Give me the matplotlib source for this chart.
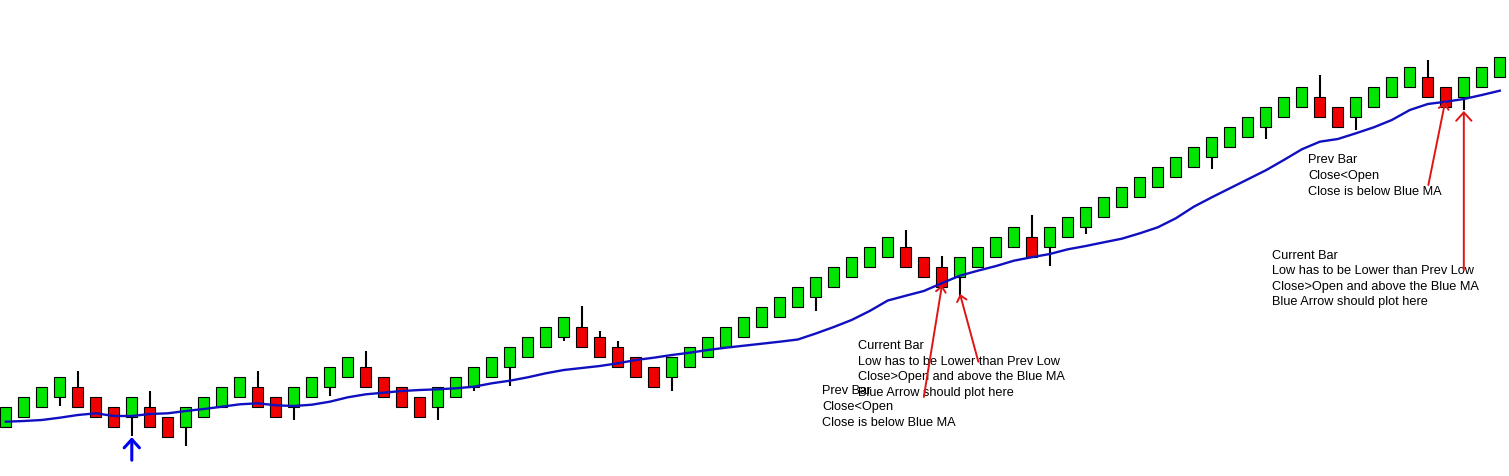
import numpy as np
import matplotlib
matplotlib.use("Agg")
import matplotlib.pyplot as plt

# -----------------------------
# Candle data (price in chart steps)
# -----------------------------
opens = [1, 2, 3, 4, 5, 4, 3, 2, 3, 2, 1, 2, 3, 4, 5, 4, 3, 4, 5, 6,
         7, 6, 5, 4, 3, 4, 5, 6, 7, 8, 9, 10, 11, 10, 9, 8, 7, 6, 7, 8,
         9, 10, 11, 12, 13, 14, 15, 16, 17, 18, 19, 18, 17, 16, 17, 18, 19, 20, 19, 20,
         21, 22, 23, 24, 25, 26, 27, 28, 29, 30, 31, 32, 33, 34, 33, 32, 33, 34, 35, 36,
         35, 34, 35, 36]
closes = [3, 4, 5, 6, 3, 2, 1, 4, 1, 0, 3, 4, 5, 6, 3, 2, 5, 6, 7, 8,
          5, 4, 3, 2, 5, 6, 7, 8, 9, 10, 11, 12, 9, 8, 7, 6, 5, 8, 9, 10,
          11, 12, 13, 14, 15, 16, 17, 18, 19, 20, 17, 16, 15, 18, 19, 20, 21, 18, 21, 22,
          23, 24, 25, 26, 27, 28, 29, 30, 31, 32, 33, 34, 35, 32, 31, 34, 35, 36, 37, 34,
          33, 36, 37, 38]

# wicks that stick out of the body (index: value)
high_wicks = {4: 6.57, 8: 4.57, 14: 6.57, 20: 8.57, 32: 13.07, 33: 10.57, 34: 9.57,
              50: 20.67, 52: 18.07, 57: 22.17, 73: 36.17, 79: 37.67}
low_wicks = {3: 3.1, 7: 0.1, 10: -0.9, 16: 1.67, 18: 4.07, 24: 1.67, 26: 4.57,
             28: 5.1, 31: 9.57, 37: 4.6, 45: 12.6, 53: 14.0, 58: 17.1, 60: 20.24,
             67: 26.74, 70: 29.74, 75: 30.67, 81: 32.67}

# blue moving average
ma = [1.5, 1.57, 1.67, 1.9, 2.17, 2.34, 2.07, 2.07, 2.27, 2.34,
      2.57, 2.77, 3.0, 3.24, 3.34, 3.14, 3.07, 3.2, 3.5, 3.94,
      4.24, 4.4, 4.57, 4.67, 4.74, 4.84, 5.0, 5.34, 5.6, 5.94,
      6.34, 6.67, 6.87, 7.07, 7.34, 7.67, 7.9, 8.17, 8.4, 8.67,
      8.9, 9.1, 9.3, 9.5, 9.72, 10.32, 10.97, 11.68, 12.58, 13.62,
      14.1, 14.57, 15.35, 16.1, 16.6, 17.06, 17.6, 17.95, 18.27, 18.74,
      19.07, 19.44, 19.8, 20.34, 20.94, 21.84, 23.0, 23.94, 24.84, 25.74,
      26.64, 27.67, 28.74, 29.5, 29.77, 30.34, 30.94, 31.67, 32.67, 33.27,
      33.5, 33.77, 34.17, 34.6]

opens = np.array(opens, dtype=float)
closes = np.array(closes, dtype=float)
n = len(opens)
x = np.arange(n)
highs = np.maximum(opens, closes)
lows = np.minimum(opens, closes)
for i, v in high_wicks.items():
    highs[i] = v
for i, v in low_wicks.items():
    lows[i] = v

GREEN = "#00e600"
RED = "#f00000"
MA_COL = "#1010c0"
ARROW_RED = "#e01414"

# -----------------------------
# Plot
# -----------------------------
fig = plt.figure(figsize=(15.09, 4.76), dpi=100)
ax = fig.add_axes([0, 0, 1, 1])
ax.set_xlim(-0.322, 83.51)
ax.set_ylim(-3.93, 43.67)
ax.axis("off")

up = closes >= opens
colors = np.where(up, GREEN, RED)

ax.vlines(x, lows, highs, color="black", linewidth=1.5, zorder=1)
ax.bar(x, closes - opens, bottom=opens, width=0.63, color=colors,
       edgecolor="black", linewidth=0.8, zorder=2)
ax.plot(x, ma, color=MA_COL, linewidth=1.7, zorder=3)

# -----------------------------
# Notes and arrows
# -----------------------------
font = dict(family=["Liberation Sans", "DejaVu Sans"], fontsize=9.2, color="black",
            linespacing=1.4, va="center", ha="left", zorder=4)

ax.text(45.35, 2.97, "Prev Bar\nClose<Open\nClose is below Blue MA", **font)
ax.text(47.34, 6.72, "Current Bar\nLow has to be Lower than Prev Low\n"
        "Close>Open and above the Blue MA\nBlue Arrow should plot here", **font)
ax.text(72.34, 26.07, "Prev Bar\nClose<Open\nClose is below Blue MA", **font)
ax.text(70.34, 15.77, "Current Bar\nLow has to be Lower than Prev Low\n"
        "Close>Open and above the Blue MA\nBlue Arrow should plot here", **font)


def arrow(tail, head, color, lw, hl, hw):
    ax.annotate("", xy=head, xytext=tail,
                arrowprops=dict(arrowstyle=f"->,head_length={hl},head_width={hw}",
                                color=color, lw=lw, shrinkA=0, shrinkB=0,
                                mutation_scale=10),
                zorder=5)


arrow((51.0, 3.97), (52.01, 15.17), ARROW_RED, 1.4, 0.4, 0.35)
arrow((54.03, 7.5), (53.01, 14.27), ARROW_RED, 1.4, 0.4, 0.35)
arrow((79.03, 25.17), (79.96, 33.47), ARROW_RED, 1.4, 0.4, 0.35)
arrow((81.0, 16.67), (81.0, 32.57), ARROW_RED, 1.4, 0.6, 0.55)
arrow((7.0, -2.35), (7.0, -0.05), "#0000f0", 2.2, 0.6, 0.55)

fig.savefig("out.png", dpi=100)
